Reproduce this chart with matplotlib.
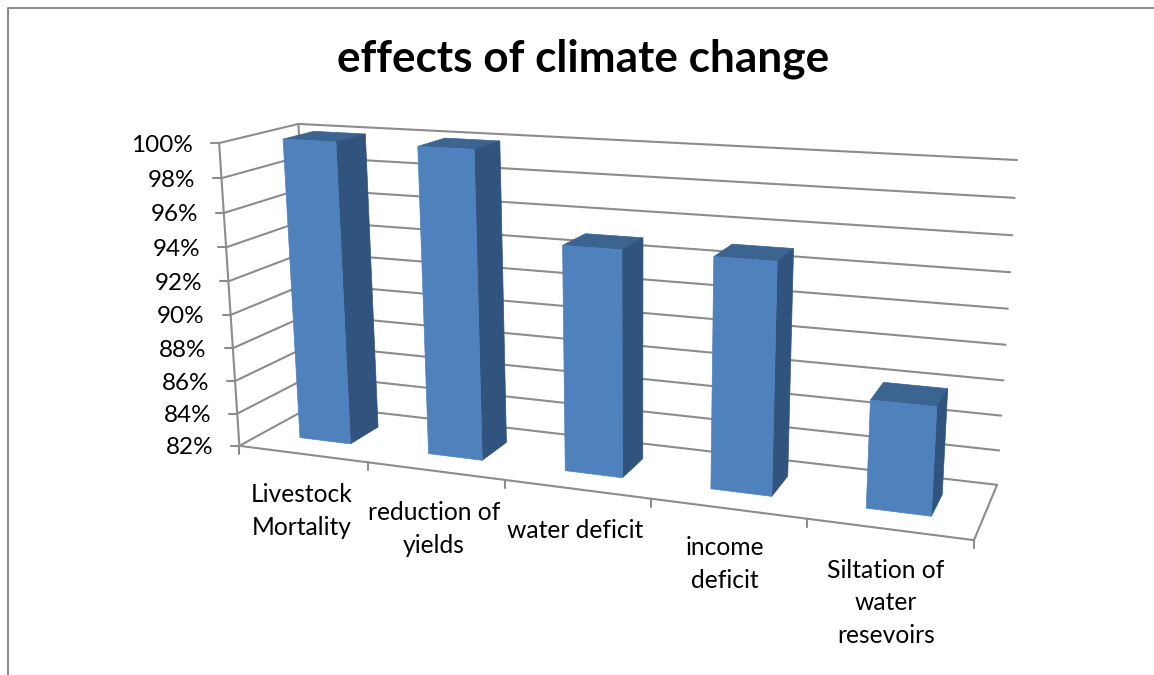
import matplotlib
matplotlib.use("Agg")
import matplotlib.pyplot as plt
import numpy as np
from matplotlib.patches import Polygon

categories = ["Livestock\nMortality", "reduction of\nyields", "water deficit",
              "income\ndeficit", "Siltation of\nwater\nresevoirs"]
values = [100, 100, 95, 95, 88]
y_ticks = [82, 84, 86, 88, 90, 92, 94, 96, 98, 100]

# where the category labels sit (pixels)
label_pos = [(302, 511), (434, 529), (575, 531), (725, 564), (886, 603)]

plt.rcParams["font.family"] = ["Lato", "DejaVu Sans"]

GRID = "#8c8c8c"
FRONT = "#4f81bd"
SIDE = "#31547e"
TOP = "#3b6491"
BAR_W = 0.40
Z0, Z1 = 0.30, 0.70

# box corners (cat, frac of y, depth) -> pixels, used to solve the 3d look
world = [(0, 0, 0), (0, 1, 0), (0, 1, 1), (0, 0, 1), (5, 0, 1), (5, 1, 1), (5, 0, 0)]
pixels = [(239, 446), (219.5, 143), (298, 124), (314, 405), (997, 485), (1017, 160), (974, 540)]

A, b = [], []
for (X, Y, Z), (u, v) in zip(world, pixels):
    A.append([X, Y, Z, 1, 0, 0, 0, 0, -u * X, -u * Y, -u * Z])
    b.append(u)
    A.append([0, 0, 0, 0, X, Y, Z, 1, -v * X, -v * Y, -v * Z])
    b.append(v)
p = np.linalg.lstsq(np.array(A, float), np.array(b, float), rcond=None)[0]
P = np.append(p, 1).reshape(3, 4)


def proj(x, val, z):
    y = (val - y_ticks[0]) / (y_ticks[-1] - y_ticks[0])
    h = P @ np.array([x, y, z, 1.0])
    return h[0] / h[2], h[1] / h[2]


fig = plt.figure(figsize=(11.54, 6.75), dpi=100)
ax = fig.add_axes([0, 0, 1, 1])
ax.set_xlim(0, 1154)
ax.set_ylim(675, 0)
ax.axis("off")

# chart border
ax.plot([7.5, 7.5, 1154], [675, 7.5, 7.5], color="#8c8c8c", lw=1.5)

n = len(categories)
lo, hi = y_ticks[0], y_ticks[-1]


def line(a, b, lw=1.5):
    ax.plot([a[0], b[0]], [a[1], b[1]], color=GRID, lw=lw, solid_capstyle="round", zorder=1)


for t in y_ticks:
    fl, bl, br = proj(0, t, 0), proj(0, t, 1), proj(n, t, 1)
    line(fl, bl)
    line(bl, br)
    line((fl[0] - 8, fl[1]), fl)
    ax.text(fl[0] - 26, fl[1] + 2, f"{t}%", ha="right", va="center", fontsize=17.5, color="black")

line(proj(0, lo, 0), proj(0, hi, 0))
line(proj(0, lo, 1), proj(0, hi, 1))
line(proj(0, lo, 0), proj(n, lo, 0))
line(proj(n, lo, 0), proj(n, lo, 1))

for i in range(n + 1):
    a = proj(i, lo, 0)
    line(a, (a[0], a[1] + 8))

for i, val in enumerate(values):
    x0, x1 = i + 0.5 - BAR_W / 2, i + 0.5 + BAR_W / 2
    faces = [
        ([(x0, val, Z0), (x1, val, Z0), (x1, val, Z1), (x0, val, Z1)], TOP),
        ([(x1, lo, Z0), (x1, val, Z0), (x1, val, Z1), (x1, lo, Z1)], SIDE),
        ([(x0, lo, Z0), (x1, lo, Z0), (x1, val, Z0), (x0, val, Z0)], FRONT),
    ]
    for corners, col in faces:
        ax.add_patch(Polygon([proj(*c) for c in corners], closed=True, facecolor=col,
                             edgecolor=col, lw=0.5, zorder=3))

for name, (x, y) in zip(categories, label_pos):
    ax.text(x, y, name, ha="center", va="center", fontsize=17.7, color="black",
            multialignment="center", linespacing=1.5)

ax.text(583, 59, "effects of climate change", ha="center", va="center",
        fontsize=31.8, fontweight="bold", color="black")

fig.savefig("out.png", dpi=100)
